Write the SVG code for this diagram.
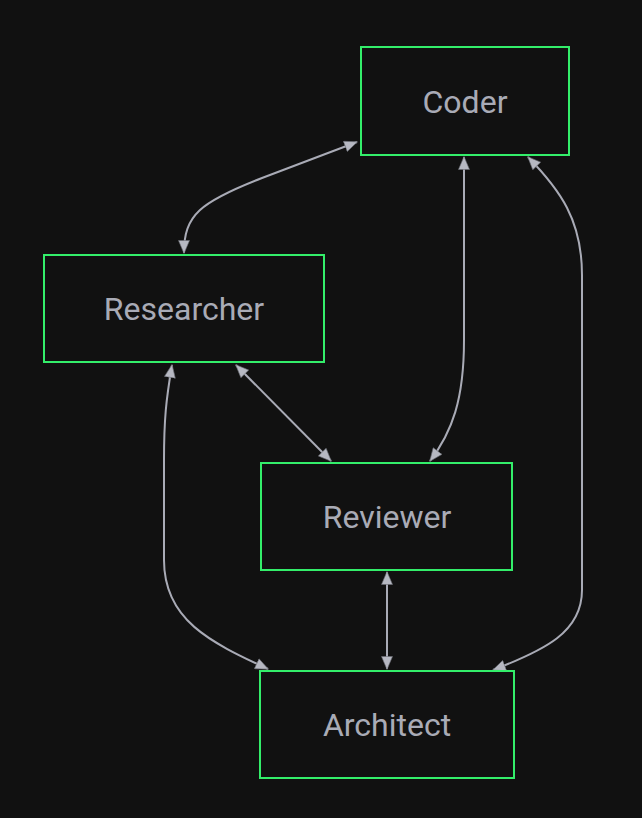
<svg xmlns="http://www.w3.org/2000/svg" width="642" height="818" viewBox="0 0 642 818">
<defs>
<style>
.node rect{fill:#111111;stroke:#33ee6a;stroke-width:2}
.node text{font-family:Roboto,"Liberation Sans",sans-serif;font-size:32px;fill:#a9abb6;text-anchor:middle}
.edge{fill:none;stroke:#a9abb6;stroke-width:2;marker-start:url(#ah);marker-end:url(#ah)}
</style>
<marker id="ah" viewBox="0 0 14 12" refX="13" refY="6" markerWidth="14" markerHeight="12" markerUnits="userSpaceOnUse" orient="auto-start-reverse">
<path d="M0.5,0.5 L13.5,6 L0.5,11.5 z" fill="#b6b8c2" stroke="#6a6c74" stroke-width="0.6"/>
</marker>
</defs>
<rect width="642" height="818" fill="#111111"/>
<g id="connectors">
<path class="edge" d="M357,142 L262,178 C200,202 184,215 184,253"/>
<path class="edge" d="M464,157 L464,340 C464,400 452,432 430,461"/>
<path class="edge" d="M528,157 C560,190 582,220 582,275 L582,590 C582,632 545,650 493,670"/>
<path class="edge" d="M236,365 L331,461"/>
<path class="edge" d="M172,365 C166,400 164,420 164,460 L164,560 C164,620 210,642 268,669"/>
<path class="edge" d="M387,572 L387,669"/>
</g>
<g id="node-coder" class="node">
<rect x="361" y="47" width="208" height="108"/>
<text x="465" y="113">Coder</text>
</g>
<g id="node-researcher" class="node">
<rect x="44" y="255" width="280" height="107"/>
<text x="184" y="320">Researcher</text>
</g>
<g id="node-reviewer" class="node">
<rect x="261" y="463" width="251" height="107"/>
<text x="387" y="528">Reviewer</text>
</g>
<g id="node-architect" class="node">
<rect x="260" y="671" width="254" height="107"/>
<text x="387" y="736">Architect</text>
</g>
</svg>
